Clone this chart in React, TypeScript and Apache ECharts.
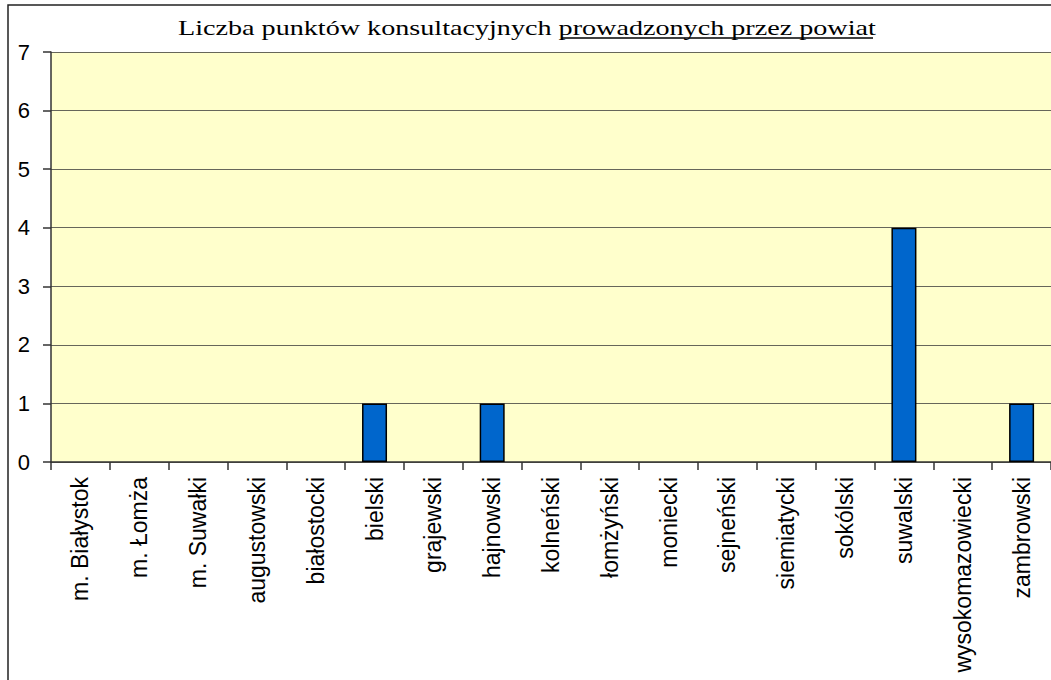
import React, { useEffect, useRef } from "react";
import * as echarts from "echarts";

const categories = [
  "m. Białystok",
  "m. Łomża",
  "m. Suwałki",
  "augustowski",
  "białostocki",
  "bielski",
  "grajewski",
  "hajnowski",
  "kolneński",
  "łomżyński",
  "moniecki",
  "sejneński",
  "siemiatycki",
  "sokólski",
  "suwalski",
  "wysokomazowiecki",
  "zambrowski",
];
const values = [0, 0, 0, 0, 0, 1, 0, 1, 0, 0, 0, 0, 0, 0, 4, 0, 1];
const titleMain = "Liczba punktów konsultacyjnych ";
const titleUnderlined = "prowadzonych przez powiat";

export default function App() {
  const ref = useRef<HTMLDivElement>(null);
  useEffect(() => {
    if (!ref.current) return;
    const chart = echarts.init(ref.current, null, { renderer: "svg" });
    chart.setOption({
      animation: false,
      backgroundColor: "#ffffff",
      grid: {
        left: 51,
        top: 52,
        width: 1007,
        bottom: 218,
        show: true,
        backgroundColor: "#FFFFCC",
        borderWidth: 0,
      },
      xAxis: {
        type: "category",
        data: categories,
        boundaryGap: true,
        axisLine: { show: true, lineStyle: { color: "#333", width: 1.5 } },
        axisTick: { show: true, length: 8, lineStyle: { color: "#333", width: 1.5 } },
        axisLabel: {
          rotate: 90,
          interval: 0,
          margin: 15,
          color: "#000",
          fontFamily: "Liberation Sans",
          fontSize: 23,
          padding: [0, 0, 3, 0],
        },
      },
      yAxis: {
        type: "value",
        min: 0,
        max: 7,
        interval: 1,
        axisLine: { show: true, lineStyle: { color: "#333", width: 1.5 } },
        axisTick: { show: true, length: 8, lineStyle: { color: "#333", width: 1.5 } },
        axisLabel: {
          margin: 21,
          color: "#000",
          fontFamily: "Liberation Sans",
          fontSize: 22,
        },
        splitLine: { show: true, lineStyle: { color: "#66665a", width: 1.2 } },
      },
      series: [
        {
          type: "bar",
          data: values.map((v) => (v === 0 ? null : v)),
          barWidth: 25,
          itemStyle: { color: "#0066CC", borderColor: "#000", borderWidth: 1.5 },
        },
      ],
      graphic: [
        {
          type: "rect",
          shape: { x: 8, y: 5, width: 1200, height: 800 },
          style: { fill: "none", stroke: "#222", lineWidth: 1.5 },
          z: 100,
        },
        {
          type: "text",
          x: 178,
          y: 27,
          scaleX: 1.28,
          style: {
            text: titleMain + titleUnderlined,
            font: '22px "Liberation Serif"',
            fill: "#000",
            textAlign: "left",
            textVerticalAlign: "middle",
          },
        },
        {
          type: "line",
          shape: { x1: 562, y1: 38, x2: 873, y2: 38 },
          style: { stroke: "#000", lineWidth: 1.5 },
        },
      ],
    });
    return () => chart.dispose();
  }, []);
  return (
    <div
      ref={ref}
      style={{ position: "absolute", left: 0, top: 0, width: 1051, height: 680 }}
    />
  );
}
